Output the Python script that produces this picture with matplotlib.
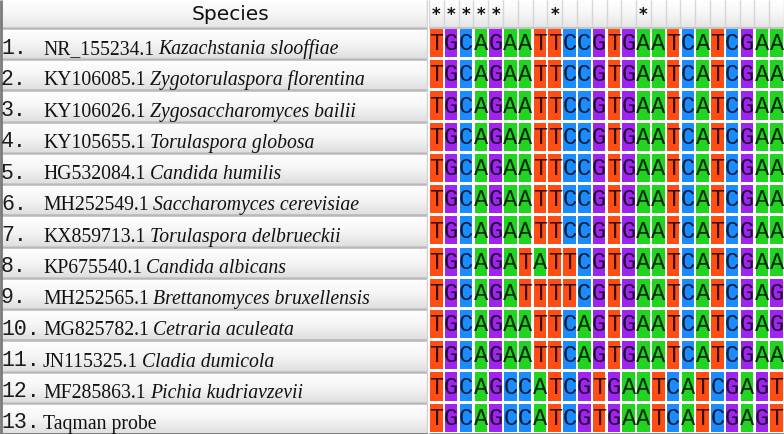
import numpy as np
import matplotlib.pyplot as plt
from matplotlib.patches import Rectangle
from matplotlib.colors import LinearSegmentedColormap

# alignment data
accessions = ['NR_155234.1', 'KY106085.1', 'KY106026.1', 'KY105655.1', 'HG532084.1',
              'MH252549.1', 'KX859713.1', 'KP675540.1', 'MH252565.1', 'MG825782.1',
              'JN115325.1', 'MF285863.1', 'Taqman probe']
species = ['Kazachstania slooffiae', 'Zygotorulaspora florentina', 'Zygosaccharomyces bailii',
           'Torulaspora globosa', 'Candida humilis', 'Saccharomyces cerevisiae',
           'Torulaspora delbrueckii', 'Candida albicans', 'Brettanomyces bruxellensis',
           'Cetraria aculeata', 'Cladia dumicola', 'Pichia kudriavzevii', '']
sequences = ['TGCAGAATTCCGTGAATCATCGAA',
             'TGCAGAATTCCGTGAATCATCGAA',
             'TGCAGAATTCCGTGAATCATCGAA',
             'TGCAGAATTCCGTGAATCATCGAA',
             'TGCAGAATTCCGTGAATCATCGAA',
             'TGCAGAATTCCGTGAATCATCGAA',
             'TGCAGAATTCCGTGAATCATCGAA',
             'TGCAGATATTCGTGAATCATCGAA',
             'TGCAGATTTTCGTGAATCATCGAG',
             'TGCAGAATTCAGTGAATCATCGAG',
             'TGCAGAATTCAGTGAATCATCGAA',
             'TGCAGCCATCGTGAATCATCGAGT',
             'TGCAGCCATCGTGAATCATCGAGT']
base_colors = {'T': '#ff4d14', 'G': '#a024f0', 'C': '#1a8cff', 'A': '#20d420'}

n_rows = len(sequences)
n_cols = len(sequences[0])
# columns where every sequence agrees get a star
conserved = [j for j in range(n_cols) if len({s[j] for s in sequences}) == 1]

W, H = 784, 434
hdr_px = 28
row_h = (H - hdr_px) / n_rows
hdr = hdr_px / row_h
split = 428

fig = plt.figure(figsize=(W / 100, H / 100), dpi=100)
fig.patch.set_facecolor('white')

ax_l = fig.add_axes([0, 0, split / W, 1])
ax_s = fig.add_axes([(split + 1) / W, 0, (W - split - 1) / W, 1])

grad = np.linspace(0, 1, 64).reshape(-1, 1)
row_cmap = LinearSegmentedColormap.from_list('row', ['#ffffff', '#f6f6f6', '#dedede'])
hdr_cmap = LinearSegmentedColormap.from_list('hdr', ['#ffffff', '#f6f6f6', '#e4e4e4'])

# left panel: header + one gradient cell per row
ax_l.imshow(grad, extent=[0, split - 1, 0, -hdr], cmap=hdr_cmap, aspect='auto')
ax_l.text(231, -hdr / 2, 'Species', ha='center', va='center',
          family='DejaVu Sans', fontsize=14.5, color='#111111')
for i in range(n_rows):
    ax_l.imshow(grad, extent=[0, split - 1, i + 1, i], cmap=row_cmap, aspect='auto')
    ax_l.text(1, i + 0.82, f'{i + 1}.', ha='left', va='baseline',
              family='Liberation Mono', fontsize=15.5, color='#1a1a1a')
    t = ax_l.text(43, i + 0.84, accessions[i], ha='left', va='baseline',
                  family='Liberation Serif', fontsize=14.2, color='#111111')
    if species[i]:
        ax_l.annotate(species[i], xy=(1, 0), xycoords=t, xytext=(3, 0),
                      textcoords='offset points', ha='left', va='bottom',
                      family='Liberation Serif', style='italic', fontsize=14.2,
                      color='#111111')
ax_l.hlines(range(n_rows + 1), 0, split - 1, color='#b8b8b8', lw=1.8)
ax_l.vlines(split - 1, -hdr, n_rows, color='#d0d0d0', lw=1)
ax_l.vlines(0.8, -hdr, n_rows, color='#7a7a7a', lw=2)
ax_l.hlines(n_rows, 0, split, color='#7a7a7a', lw=2)
ax_l.set_xlim(0, split)
ax_l.set_ylim(n_rows, -hdr)
ax_l.axis('off')

# right panel: star header and coloured base cells
ax_s.imshow(grad, extent=[0, n_cols, 0, -hdr], cmap=hdr_cmap, aspect='auto')
ax_s.vlines(range(n_cols + 1), -hdr, 0, color='#d6d6d6', lw=1)
ax_s.hlines(0, 0, n_cols, color='#c4c4c4', lw=1.5)
for j in conserved:
    ax_s.text(j + 0.5, -hdr * 0.45, '*', ha='center', va='center',
              family='DejaVu Sans', fontsize=12, weight='bold', color='#111111')
for i, seq in enumerate(sequences):
    for j, b in enumerate(seq):
        ax_s.add_patch(Rectangle((j + 0.078, i + 0.03), 0.845, 0.9,
                                 facecolor=base_colors[b], edgecolor='none'))
        ax_s.text(j + 0.5, i + 0.5, b, ha='center', va='center',
                  family='Liberation Mono', fontsize=17, color='black', alpha=0.8)
ax_s.hlines(n_rows, 0, n_cols, color='#7a7a7a', lw=2)
ax_s.set_xlim(0, n_cols)
ax_s.set_ylim(n_rows, -hdr)
ax_s.axis('off')

fig.savefig('out.png', dpi=100)
